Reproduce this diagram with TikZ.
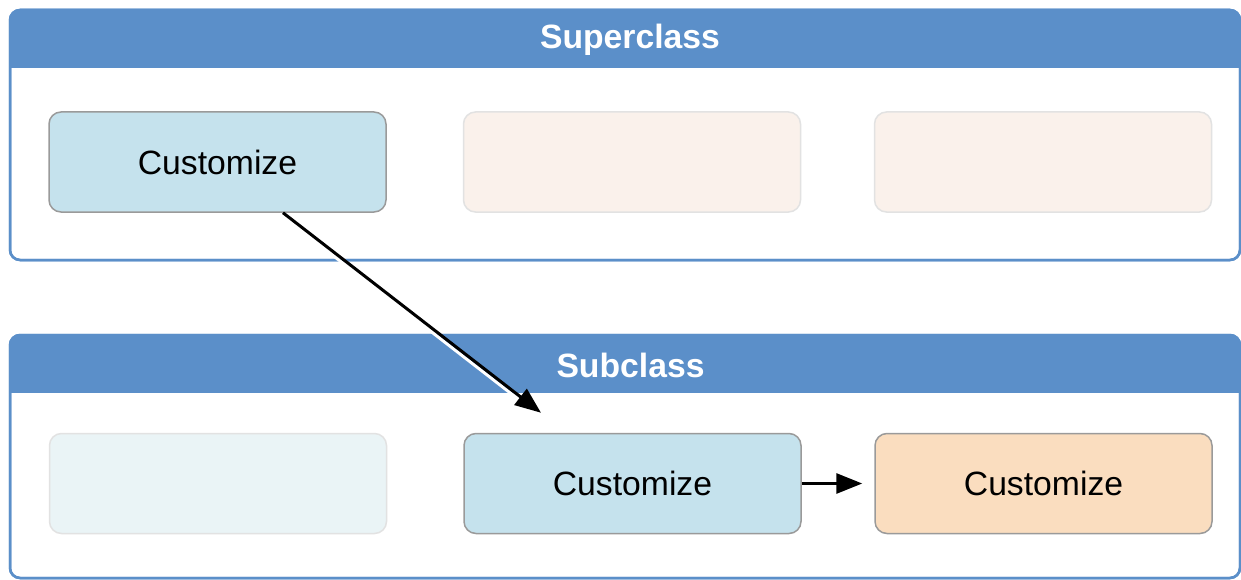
\documentclass[tikz,border=0pt]{standalone}
\usepackage{fontspec}
\setmainfont{Liberation Sans}
\usetikzlibrary{arrows.meta,calc}
\definecolor{hdrblue}{HTML}{5B8FC9}
\definecolor{boxblue}{HTML}{C5E2ED}
\definecolor{boxorange}{HTML}{FADDBF}
\definecolor{fadeorange}{HTML}{FAF1EB}
\definecolor{fadeblue}{HTML}{EAF4F6}
\definecolor{boxedge}{HTML}{9A9A9A}
\definecolor{fadeedge}{HTML}{E2E2E2}
\tikzset{
  framebox/.style={draw=hdrblue, line width=2.5pt, fill=white, rounded corners=10pt},
  hdrtext/.style={text=white, font=\fontsize{33.7}{40}\selectfont\bfseries},
  methodbox/.style={rounded corners=12pt, minimum width=337pt, minimum height=100pt, inner sep=0pt, line width=1.5pt, font=\fontsize{33.7}{40}\selectfont},
  activebox/.style={methodbox, draw=boxedge, fill=boxblue},
  overbox/.style={methodbox, draw=boxedge, fill=boxorange},
  fadebox/.style={methodbox, draw=fadeedge, fill=fadeorange},
  fadebluebox/.style={methodbox, draw=fadeedge, fill=fadeblue},
  flow/.style={line width=3pt, -{Triangle[length=26pt,width=20pt]}},
  halo/.style={white, line width=3pt}
}
\begin{document}
\begin{tikzpicture}[x=1pt,y=-1pt]
\useasboundingbox (0,0) rectangle (1241,580);
% Superclass frame
\draw[framebox] (10,10) rectangle (1240,260);
\begin{scope}
  \clip[rounded corners=10pt] (10,10) rectangle (1240,260);
  \fill[hdrblue] (10,10) rectangle (1240,68);
\end{scope}
\draw[framebox, fill=none] (10,10) rectangle (1240,260);
\node[hdrtext] (suphdr) at (630,40) {Superclass};
% Subclass frame
\draw[framebox] (10,335) rectangle (1240,578);
\begin{scope}
  \clip[rounded corners=10pt] (10,335) rectangle (1240,578);
  \fill[hdrblue] (10,335) rectangle (1240,393);
\end{scope}
\draw[framebox, fill=none] (10,335) rectangle (1240,578);
\node[hdrtext] (subhdr) at (630.5,365) {Subclass};
% boxes
\node[activebox] (s1) at (217.5,162) {Customize};
\node[fadebox] (s2) at (632,162) {};
\node[fadebox] (s3) at (1043,162) {};
\node[fadebluebox] (b1) at (218,483.5) {};
\node[activebox] (b2) at (632.5,483.5) {Customize};
\node[overbox] (b3) at (1043.5,483.5) {Customize};
% connectors
\coordinate (a1) at ($(s1.south)+(65.5,0)$);
\coordinate (t1) at ($(b2.north)+(-91.5,-20)$);
\coordinate (t2) at ($(b3.west)+(-12,0)$);
\draw[halo] ($(a1)+(-1.8,2.6)$) -- ($(t1)!30pt!(a1)+(-1.8,2.6)$);
\draw[flow] (a1) -- (t1);
\draw[flow] (b2.east) -- (t2);
\end{tikzpicture}
\end{document}
